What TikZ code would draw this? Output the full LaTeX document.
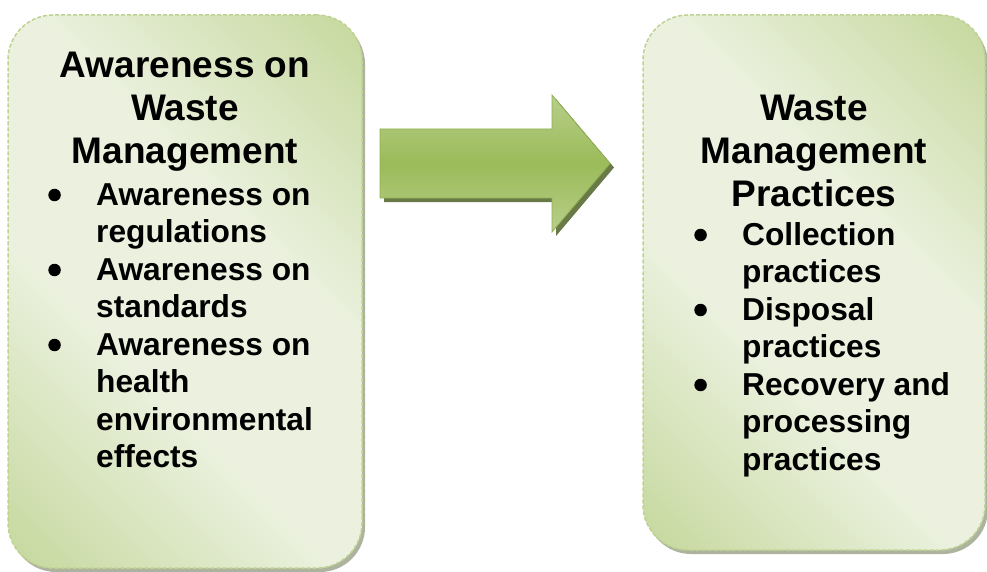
\documentclass[tikz,border=0pt]{standalone}
\usepackage{fontspec}
\setmainfont{Liberation Sans}
\usetikzlibrary{positioning}
\usetikzlibrary{shadows}
\definecolor{boxlight}{RGB}{235,241,222}
\definecolor{boxdark}{RGB}{196,215,155}
\definecolor{boxedge}{RGB}{190,211,146}
\definecolor{arrowmid}{RGB}{155,187,89}
\definecolor{arrowlight}{RGB}{184,206,138}
\definecolor{arrowedge}{RGB}{143,177,80}
\definecolor{arrowshadow}{RGB}{79,98,40}
\pgfdeclarehorizontalshading{boxshade}{100bp}{color(0bp)=(boxdark); color(14bp)=(boxdark); color(40bp)=(boxlight); color(60bp)=(boxlight); color(86bp)=(boxdark); color(100bp)=(boxdark)}
\pgfdeclareverticalshading{arrowshade}{100bp}{color(0bp)=(arrowlight); color(25bp)=(arrowlight); color(50bp)=(arrowmid); color(75bp)=(arrowlight); color(100bp)=(arrowlight)}
\newcommand{\headfont}{\fontsize{37}{43}\selectfont\bfseries}
\newcommand{\itemfont}{\fontsize{31.7}{37.5}\selectfont\bfseries}

\begin{document}
\begin{tikzpicture}[x=1pt, y=-1pt,
panel/.style={rounded corners=45pt, shade, shading=boxshade, shading angle=45, draw=boxedge, line width=1.5pt, dash pattern=on 4pt off 2pt, drop shadow={shadow xshift=3pt, shadow yshift=-4pt, fill=black!40!boxdark, opacity=0.6}},
headtext/.style={anchor=base, inner sep=0pt, font=\headfont},
itemtext/.style={anchor=base west, inner sep=0pt, font=\itemfont},
bulletdot/.style={circle, fill=black, inner sep=0pt, minimum size=12.5pt, left=35pt of #1, yshift=10pt}]

\useasboundingbox (0,0) rectangle (987,572);

% the two panels
\node [panel, minimum width=354pt, minimum height=553pt] (lbox) at (185,291.5) {};
\node [panel, minimum width=342pt, minimum height=535pt] (rbox) at (814,282.5) {};

% arrow between them
\draw [arrowedge, line width=0.8pt, shade, shading=arrowshade, drop shadow={shadow xshift=4pt, shadow yshift=-4pt, fill=arrowshadow, opacity=0.85}]
  (380,129) -- (552,129) -- (552,95) -- (610,163.5) -- (552,232) -- (552,198) -- (380,198) -- cycle;

% left panel text
\node [headtext] (lhead) at (185,78) {\begin{tabular}[t]{@{}c@{}}Awareness on\\Waste\\Management\end{tabular}};
\node [itemtext] (l1) at (96,205) {\begin{tabular}[t]{@{}l@{}}Awareness on\\regulations\end{tabular}};
\node [itemtext] (l2) at (96,280) {\begin{tabular}[t]{@{}l@{}}Awareness on\\standards\end{tabular}};
\node [itemtext] (l3) at (96,355) {\begin{tabular}[t]{@{}l@{}}Awareness on\\health\\environmental\\effects\end{tabular}};
\node [bulletdot=l1.base west] (lb1) {};
\node [bulletdot=l2.base west] (lb2) {};
\node [bulletdot=l3.base west] (lb3) {};

% right panel text
\node [headtext] (rhead) at (814,121) {\begin{tabular}[t]{@{}c@{}}Waste\\Management\\Practices\end{tabular}};
\node [itemtext] (r1) at (742,245) {\begin{tabular}[t]{@{}l@{}}Collection\\practices\end{tabular}};
\node [itemtext] (r2) at (742,320) {\begin{tabular}[t]{@{}l@{}}Disposal\\practices\end{tabular}};
\node [itemtext] (r3) at (742,395) {\begin{tabular}[t]{@{}l@{}}Recovery and\\processing\\practices\end{tabular}};
\node [bulletdot=r1.base west] (rb1) {};
\node [bulletdot=r2.base west] (rb2) {};
\node [bulletdot=r3.base west] (rb3) {};

\end{tikzpicture}
\end{document}
